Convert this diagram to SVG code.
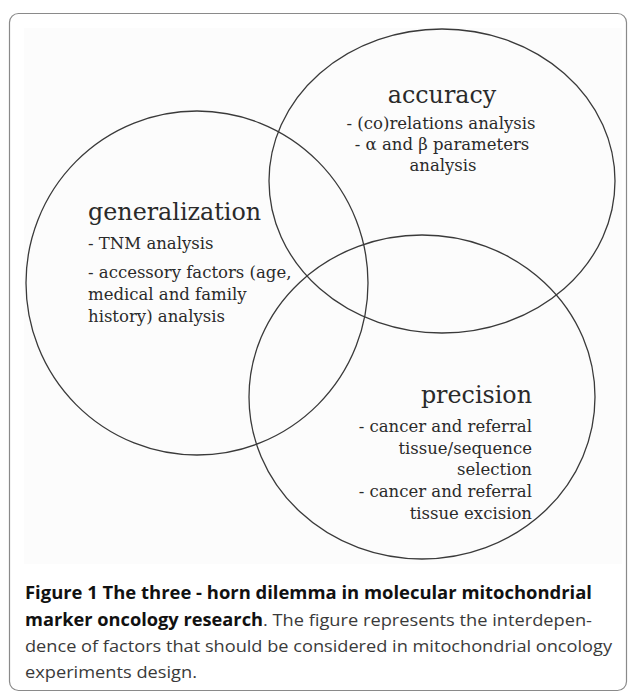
<svg xmlns="http://www.w3.org/2000/svg" width="628" height="698" viewBox="0 0 628 698">
<style>
.c{fill:none;stroke:#3a3a3a;stroke-width:1.3}
.h{font-family:"DejaVu Serif","Liberation Serif",serif;font-size:23.8px;fill:#2a2a2a}
.t{font-family:"DejaVu Serif","Liberation Serif",serif;font-size:16.5px;fill:#2a2a2a}
.cap{font-family:"Open Sans","Noto Sans",sans-serif;font-size:17px;fill:#3a3a3a}
.b{font-weight:bold;fill:#111}
</style>
<rect x="9.5" y="13.5" width="617" height="677" rx="9" fill="#fff" stroke="#8a8a8a" stroke-width="1.2"/>
<rect x="24" y="28" width="598" height="536" fill="#fcfcfc"/>
<g id="generalization">
<ellipse class="c" cx="197" cy="283" rx="171" ry="172"/>
<text class="h" x="88" y="220">generalization</text>
<text class="t" x="88" y="249">- TNM analysis</text>
<text class="t" x="88" y="278">- accessory factors (age,</text>
<text class="t" x="88" y="300">medical and family</text>
<text class="t" x="88" y="322">history) analysis</text>
</g>
<g id="accuracy">
<ellipse class="c" cx="442" cy="181" rx="173" ry="152"/>
<g text-anchor="middle">
<text class="h" x="442" y="103">accuracy</text>
<text class="t" x="441" y="129">- (co)relations analysis</text>
<text class="t" x="442" y="150">- α and β parameters</text>
<text class="t" x="443" y="171">analysis</text>
</g>
</g>
<g id="precision">
<ellipse class="c" cx="422" cy="397" rx="173" ry="162"/>
<g text-anchor="end">
<text class="h" x="532" y="403">precision</text>
<text class="t" x="532" y="432">- cancer and referral</text>
<text class="t" x="532" y="454">tissue/sequence</text>
<text class="t" x="532" y="475">selection</text>
<text class="t" x="532" y="497">- cancer and referral</text>
<text class="t" x="532" y="519">tissue excision</text>
</g>
</g>
<g id="connectors"/>
<g id="caption">
<text class="cap b" x="25" y="599" textLength="567" lengthAdjust="spacingAndGlyphs">Figure 1 The three - horn dilemma in molecular mitochondrial</text>
<text class="cap" y="626"><tspan class="b" x="25" textLength="238" lengthAdjust="spacingAndGlyphs">marker oncology research</tspan><tspan x="263" textLength="329" lengthAdjust="spacingAndGlyphs">. The figure represents the interdepen-</tspan></text>
<text class="cap" x="25" y="652" textLength="587" lengthAdjust="spacingAndGlyphs">dence of factors that should be considered in mitochondrial oncology</text>
<text class="cap" x="25" y="678" textLength="172" lengthAdjust="spacingAndGlyphs">experiments design.</text>
</g>
</svg>
